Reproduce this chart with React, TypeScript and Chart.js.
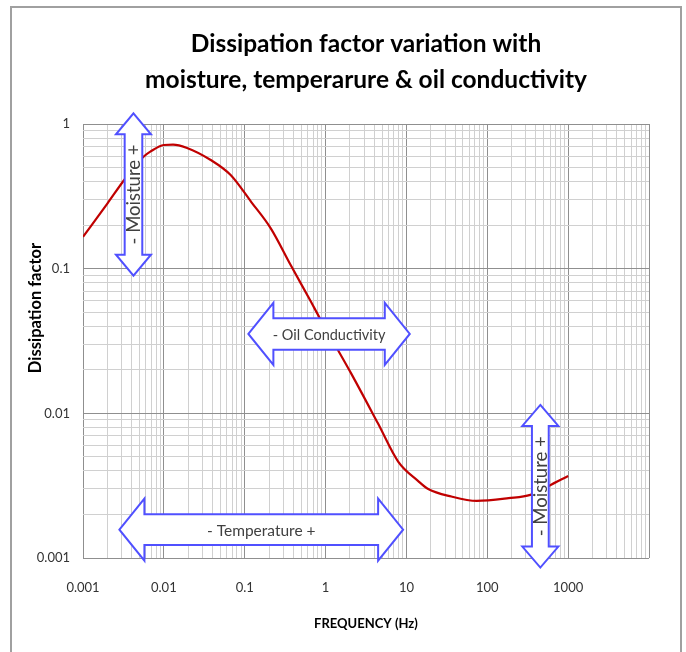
import { useEffect, useRef } from 'react';
import { Chart, registerables } from 'chart.js';

Chart.register(...registerables);

// ---- data ----
const frequencyHz = [0.001, 0.002, 0.0033, 0.0056, 0.0068, 0.01, 0.013, 0.019, 0.038, 0.067, 0.12, 0.21, 0.37, 0.66, 0.84, 2.07, 4.44, 7.9, 14, 18.6, 36, 74, 183, 341, 575, 1000];
const dissipationFactor = [0.166, 0.282, 0.417, 0.594, 0.644, 0.716, 0.72, 0.686, 0.564, 0.444, 0.29, 0.19, 0.106, 0.059, 0.046, 0.0189, 0.00853, 0.00464, 0.0034, 0.003, 0.00266, 0.00248, 0.00259, 0.00273, 0.00315, 0.00369];
const xTickLabels = ['0.001', '0.01', '0.1', '1', '10', '100', '1000'];
const yTickLabels = ['0.001', '0.01', '0.1', '1'];
const titleLines = ['Dissipation factor variation with', 'moisture, temperarure & oil conductivity'];
const xAxisTitle = 'FREQUENCY (Hz)';
const yAxisTitle = 'Dissipation factor';
const arrowTexts = ['- Moisture +', '- Oil Conductivity', '- Temperature +', '- Moisture +'];

const FONT = 'Lato, "Open Sans", sans-serif';
const MAJOR_GRID = '#8f8f8f';
const MINOR_GRID = '#d0d0d0';
const ARROW_BLUE = 'rgb(80,80,255)';

// annotation arrows, anchored in data coordinates (frequency / dissipation factor)
const arrows = [
  { text: arrowTexts[0], dir: 'v', at: 0.00421, from: 0.0895, to: 1.186, head: 21, headHalf: 17.5, shaftHalf: 8.8, size: 18.5 },
  { text: arrowTexts[1], dir: 'h', at: 0.0354, from: 0.111, to: 11, head: 25, headHalf: 31, shaftHalf: 15.8, size: 14.5 },
  { text: arrowTexts[2], dir: 'h', at: 0.00157, from: 0.00282, to: 9.1, head: 25, headHalf: 31, shaftHalf: 15.4, size: 15.5 },
  { text: arrowTexts[3], dir: 'v', at: 453, from: 0.000859, to: 0.01143, head: 21, headHalf: 18, shaftHalf: 8.4, size: 18.5 },
];

function logTicks(minExp: number, maxExp: number) {
  const out: number[] = [];
  for (let e = minExp; e < maxExp; e++) {
    for (let k = 1; k <= 9; k++) out.push(Number((k * Math.pow(10, e)).toPrecision(6)));
  }
  out.push(Number(Math.pow(10, maxExp).toPrecision(6)));
  return out;
}

const isDecade = (v: number) => Math.abs(Math.log10(v) - Math.round(Math.log10(v))) < 1e-6;

const labelFor = (labels: string[]) => (value: any) => {
  const v = Number(value);
  const found = labels.find((l) => Math.abs(parseFloat(l) - v) / v < 1e-6);
  return found ?? '';
};

const gridColor = (c: any) => (c.tick && isDecade(c.tick.value) ? MAJOR_GRID : MINOR_GRID);

const annotationPlugin = {
  id: 'annotations',
  afterDraw(chart: any) {
    const { ctx, scales } = chart;
    const xs = scales.x;
    const ys = scales.y;
    ctx.save();
    // y axis title
    ctx.save();
    ctx.translate(36, 308);
    ctx.rotate(-Math.PI / 2);
    ctx.font = `bold 16.5px ${FONT}`;
    ctx.fillStyle = '#000';
    ctx.textAlign = 'center';
    ctx.textBaseline = 'middle';
    ctx.fillText(yAxisTitle, 0, 0);
    ctx.restore();

    for (const a of arrows) {
      ctx.beginPath();
      let cx: number, cy: number;
      if (a.dir === 'h') {
        const c = ys.getPixelForValue(a.at);
        const x1 = xs.getPixelForValue(a.from);
        const x2 = xs.getPixelForValue(a.to);
        const h = a.head, H = a.headHalf, S = a.shaftHalf;
        ctx.moveTo(x1, c);
        ctx.lineTo(x1 + h, c - H);
        ctx.lineTo(x1 + h, c - S);
        ctx.lineTo(x2 - h, c - S);
        ctx.lineTo(x2 - h, c - H);
        ctx.lineTo(x2, c);
        ctx.lineTo(x2 - h, c + H);
        ctx.lineTo(x2 - h, c + S);
        ctx.lineTo(x1 + h, c + S);
        ctx.lineTo(x1 + h, c + H);
        ctx.closePath();
        cx = (x1 + x2) / 2;
        cy = c;
      } else {
        const c = xs.getPixelForValue(a.at);
        const yb = ys.getPixelForValue(a.from);
        const yt = ys.getPixelForValue(a.to);
        const h = a.head, H = a.headHalf, S = a.shaftHalf;
        ctx.moveTo(c, yt);
        ctx.lineTo(c + H, yt + h);
        ctx.lineTo(c + S, yt + h);
        ctx.lineTo(c + S, yb - h);
        ctx.lineTo(c + H, yb - h);
        ctx.lineTo(c, yb);
        ctx.lineTo(c - H, yb - h);
        ctx.lineTo(c - S, yb - h);
        ctx.lineTo(c - S, yt + h);
        ctx.lineTo(c - H, yt + h);
        ctx.closePath();
        cx = c;
        cy = (yt + yb) / 2;
      }
      ctx.fillStyle = '#ffffff';
      ctx.fill();
      ctx.lineWidth = 2;
      ctx.lineJoin = 'miter';
      ctx.strokeStyle = ARROW_BLUE;
      ctx.stroke();

      ctx.save();
      ctx.translate(cx, cy);
      if (a.dir === 'v') ctx.rotate(-Math.PI / 2);
      ctx.font = `${a.size}px ${FONT}`;
      ctx.fillStyle = '#404040';
      ctx.textAlign = 'center';
      ctx.textBaseline = 'middle';
      ctx.fillText(a.text, 0, 1);
      ctx.restore();
    }
    ctx.restore();
  },
};

export default function App() {
  const ref = useRef<HTMLCanvasElement>(null);

  useEffect(() => {
    const canvas = ref.current;
    if (!canvas) return;
    const chart = new Chart(canvas, {
      type: 'line',
      data: {
        datasets: [
          {
            label: 'Dissipation factor',
            data: frequencyHz.map((f, i) => ({ x: f, y: dissipationFactor[i] })),
            borderColor: '#c00000',
            borderWidth: 2.2,
            pointRadius: 0,
            fill: false,
            cubicInterpolationMode: 'monotone',
          },
        ],
      },
      options: {
        responsive: false,
        animation: false,
        devicePixelRatio: 1,
        events: [],
        layout: { padding: { left: 0, right: 37, top: 0, bottom: 0 } },
        plugins: {
          legend: { display: false },
          tooltip: { enabled: false },
          title: {
            display: true,
            text: titleLines,
            fullSize: false,
            color: '#000',
            font: { family: FONT, size: 24.5, weight: 'bold', lineHeight: 1.47 },
            padding: { top: 26, bottom: 26 },
          },
        },
        scales: {
          x: {
            type: 'logarithmic',
            min: 0.001,
            max: 10000,
            afterBuildTicks: (s: any) => {
              s.ticks = logTicks(-3, 4).map((v) => ({ value: v }));
            },
            afterFit: (s: any) => {
              s.height = 94;
            },
            border: { display: false },
            grid: { color: gridColor, drawTicks: false, lineWidth: 1 },
            ticks: {
              autoSkip: false,
              maxRotation: 0,
              minRotation: 0,
              padding: 22,
              color: '#333',
              font: { family: FONT, size: 13 },
              callback: labelFor(xTickLabels),
            },
            title: {
              display: true,
              text: xAxisTitle,
              color: '#000',
              font: { family: FONT, size: 13, weight: 'bold', lineHeight: 1.2 },
              padding: { top: 0, bottom: 20 },
            },
          },
          y: {
            type: 'logarithmic',
            min: 0.001,
            max: 1,
            afterBuildTicks: (s: any) => {
              s.ticks = logTicks(-3, 0).map((v) => ({ value: v }));
            },
            afterFit: (s: any) => {
              s.width = 83;
            },
            border: { display: false },
            grid: { color: gridColor, drawTicks: false, lineWidth: 1 },
            ticks: {
              autoSkip: false,
              padding: 13,
              color: '#333',
              font: { family: FONT, size: 13 },
              callback: labelFor(yTickLabels),
            },
          },
        },
      },
      plugins: [annotationPlugin],
    } as any);
    return () => chart.destroy();
  }, []);

  return (
    <div style={{ position: 'absolute', left: 0, top: 0, width: 686, height: 652, overflow: 'hidden', background: '#fff' }}>
      <canvas ref={ref} width={686} height={652} style={{ position: 'absolute', left: 0, top: 0, width: 686, height: 652 }} />
      <div
        style={{
          position: 'absolute',
          left: 10,
          top: 6,
          width: 672,
          height: 700,
          border: '2px solid #a0a0a0',
          boxSizing: 'border-box',
          pointerEvents: 'none',
        }}
      />
    </div>
  );
}
